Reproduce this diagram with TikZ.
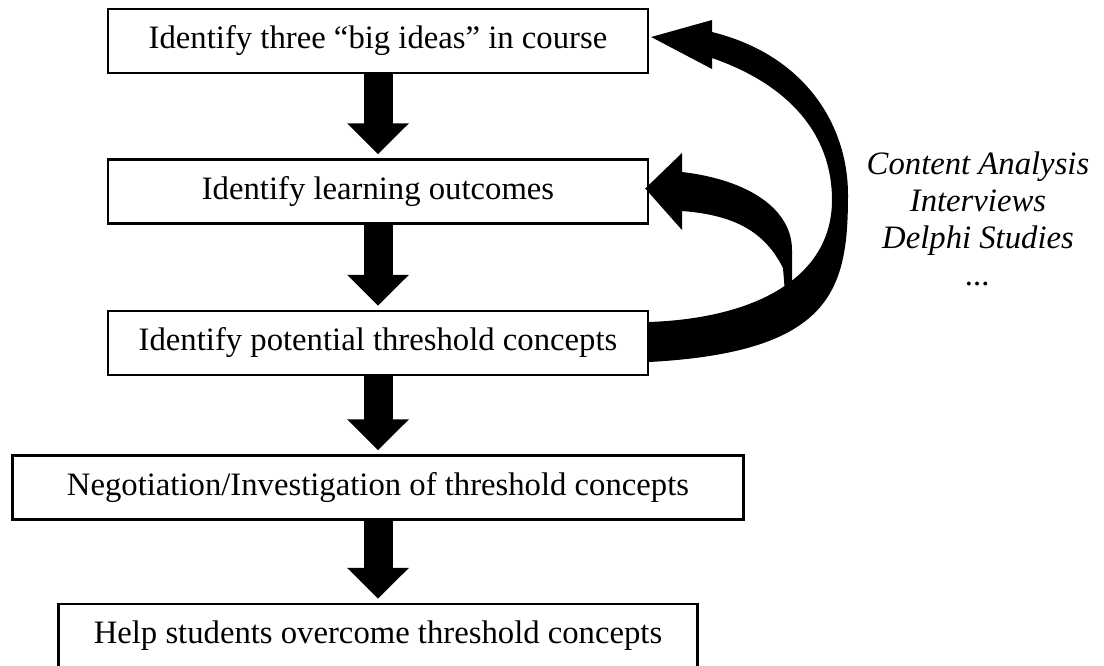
\documentclass[tikz,border=0pt]{standalone}
\usepackage{fontspec}
\setmainfont{Liberation Serif}
\usetikzlibrary{arrows.meta, calc}

\begin{document}
\begin{tikzpicture}[x=0.5pt, y=-0.5pt,
		stage/.style={draw, line width=1.2pt, minimum height=32pt, inner sep=0pt,
			font=\fontsize{16.35}{20}\selectfont},
		downarrow/.style={line width=14.5pt, -{Triangle[width=30pt, length=15.5pt]}, shorten >=2pt},
		bendarrow/.style={fill=black}]
		\useasboundingbox (0,0) rectangle (1104,665);

		% Stages
		\node[stage, minimum width=270pt] (ideas) at (378,41) {Identify three “big ideas” in course};
		\node[stage, minimum width=270pt] (outcomes) at (378,191.5) {Identify learning outcomes};
		\node[stage, minimum width=270pt] (potential) at (378,343) {Identify potential threshold concepts};
		\node[stage, minimum width=365.5pt] (negotiation) at (378,487.5) {Negotiation/Investigation of threshold concepts};
		\node[stage, minimum width=319.5pt] (help) at (378,636) {Help students overcome threshold concepts};

		% Down arrows
		\draw[downarrow] (ideas.south) -- (outcomes.north);
		\draw[downarrow] (outcomes.south) -- (potential.north);
		\draw[downarrow] (potential.south) -- (negotiation.north);
		\draw[downarrow] (negotiation.south) -- (help.north);

		% Curved arrow back to the big ideas
		\coordinate (bigstart) at ($(potential.east)+(0,-21)$);
		\coordinate (bigtip) at ($(ideas.east)+(2,-4)$);
		\fill[bendarrow] ($(potential.east)+(0,19)$)
			.. controls (832,352) and (848,290) .. (848,195)
			.. controls (848,125) and (805,55) .. (712,32)
			-- (712,20) -- (bigtip) -- (712,69) -- (712,58)
			.. controls (790,85) and (832,135) .. (832,200)
			.. controls (832,275) and (760,318) .. (bigstart) -- cycle;

		% Curved arrow back to the learning outcomes
		\coordinate (smalltip) at ($(outcomes.east)+(-4,-3)$);
		\fill[bendarrow] (682,172)
			.. controls (750,180) and (792,210) .. (792,250)
			-- (792,305) -- (786,305) -- (783,268)
			.. controls (765,232) and (735,215) .. (682,211)
			-- (682,230) -- (smalltip) -- (682,153) -- cycle;

		% Methods
		\node[align=center, font=\fontsize{16.35}{18.5}\selectfont\itshape] (methods) at (978,219)
			{Content Analysis\\Interviews\\Delphi Studies\\...};
	\end{tikzpicture}
\end{document}
